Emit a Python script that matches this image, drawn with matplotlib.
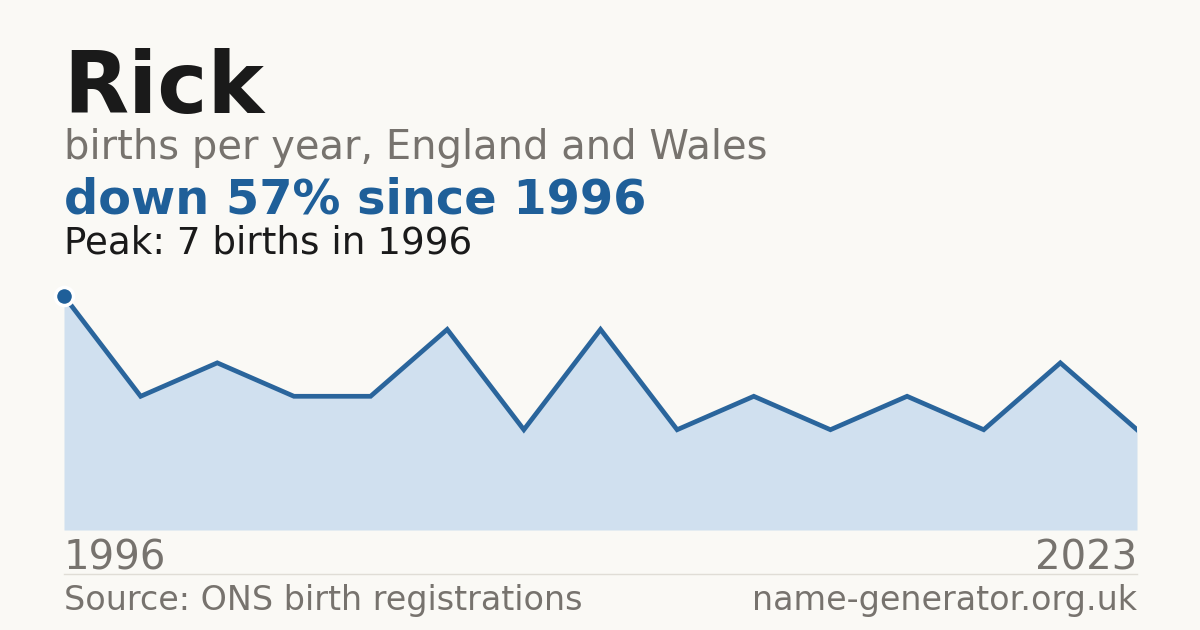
import matplotlib
matplotlib.use("Agg")
import matplotlib.pyplot as plt

plt.rcParams["font.family"] = ["DejaVu Sans"]

years = list(range(15))
births = [7, 4, 5, 4, 4, 6, 3, 6, 3, 4, 3, 4, 3, 5, 3]
start_label = "1996"
end_label = "2023"

BG = "#faf9f5"
BLUE = "#1f5f99"
LINE = "#2a659c"
FILL = "#d0e0ef"
GREY = "#77736e"
DARK = "#1a1a1a"

W, H = 1200, 630
fig = plt.figure(figsize=(12, 6.3), dpi=100, facecolor=BG)

def T(x, y):
    return x / W, 1 - y / H

ax = fig.add_axes([64 / W, (H - 530) / H, (1137 - 64) / W, (530 - 296) / H])
ax.set_facecolor(BG)
ax.fill_between(years, births, 0, color=FILL, lw=0)
ax.plot(years, births, color=LINE, lw=3.4, solid_joinstyle="miter")
ax.plot([years[0]], [births[0]], "o", ms=13, color=BLUE, mec="white", mew=2.5, clip_on=False, zorder=5)
ax.set_xlim(years[0], years[-1])
ax.set_ylim(0, 7)
ax.axis("off")

fig.text(*T(63, 113), "Rick", fontsize=61, fontweight="bold", color=DARK, va="baseline")
fig.text(*T(64, 159), "births per year, England and Wales", fontsize=28.8, color=GREY, va="baseline")
fig.text(*T(64, 214), "down 57% since 1996", fontsize=34.5, fontweight="bold", color=BLUE, va="baseline")
fig.text(*T(64, 253), "Peak: 7 births in 1996", fontsize=26.8, color=DARK, va="baseline")
fig.text(*T(64, 570), start_label, fontsize=28.9, color=GREY, va="baseline")
fig.text(*T(1137, 570), end_label, fontsize=28.9, color=GREY, va="baseline", ha="right")
fig.add_artist(plt.Line2D([64 / W, 1137 / W], [1 - 574 / H] * 2, color="#e0ddd6", lw=1))
fig.text(*T(64, 610), "Source: ONS birth registrations", fontsize=24, color=GREY, va="baseline")
fig.text(*T(1137, 610), "name-generator.org.uk", fontsize=24, color=GREY, va="baseline", ha="right")

fig.savefig("out.png", dpi=100, facecolor=BG)
